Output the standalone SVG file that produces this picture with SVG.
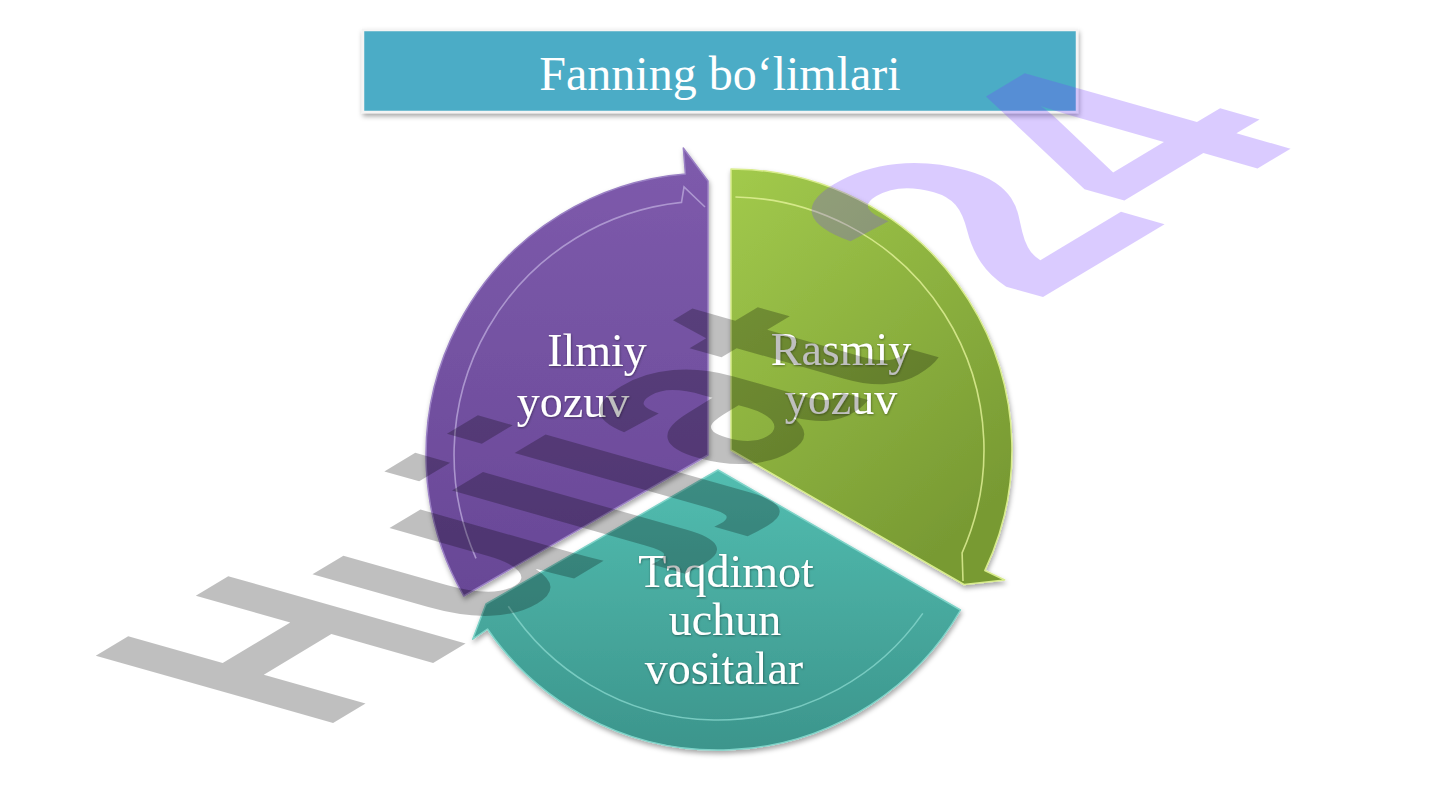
<svg xmlns="http://www.w3.org/2000/svg" width="1440" height="810" viewBox="0 0 1440 810">
<defs>
<linearGradient id="gP" x1="0" y1="0" x2="0" y2="1"><stop offset="0" stop-color="#7E5BAC"/><stop offset="1" stop-color="#684796"/></linearGradient>
<linearGradient id="gG" x1="0" y1="0" x2="0.6" y2="1"><stop offset="0" stop-color="#A2CA4C"/><stop offset="1" stop-color="#789A33"/></linearGradient>
<linearGradient id="gT" x1="0" y1="0" x2="0" y2="1"><stop offset="0" stop-color="#52BDB0"/><stop offset="1" stop-color="#3C958C"/></linearGradient>
<filter id="sh" x="-10%" y="-10%" width="120%" height="130%"><feDropShadow dx="1" dy="3" stdDeviation="2.5" flood-color="#000" flood-opacity="0.35"/></filter>
<filter id="ts" x="-10%" y="-10%" width="120%" height="130%"><feDropShadow dx="0.5" dy="1" stdDeviation="0.8" flood-color="#000" flood-opacity="0.4"/></filter>
</defs>
<style>
.lbl{font-family:"Liberation Serif","Times New Roman",serif;font-size:46px;fill:#fff;text-anchor:middle}
.ttl{font-family:"Liberation Serif","Times New Roman",serif;font-size:48px;fill:#fff;text-anchor:middle}
.seg{stroke-width:1.5;stroke-linejoin:round}
.bev{fill:none;stroke-width:1.6;opacity:0.8}
.wm{font-family:"Liberation Sans",Arial,sans-serif;font-weight:bold;font-size:100px}
</style>
<rect width="1440" height="810" fill="#fff"/>
<g id="title">
<rect x="363" y="30" width="714" height="82" fill="#4BACC6" stroke="#f4f4f4" stroke-width="2.5" filter="url(#sh)"/>
<text class="ttl" x="720" y="90">Fanning bo‘limlari</text>
</g>
<g id="connectors"/>
<g id="node-ilmiy">
<path class="seg" d="M 708 455 L 463.8 596 A 282 282 0 0 1 685.4 173.9 L 683.3 148 L 708 181 Z" fill="url(#gP)" stroke="#9A80C4" filter="url(#sh)"/>
<path class="bev" d="M 476 558.3 A 254 254 0 0 1 681.5 202.4 L 684 187 L 705 207" stroke="#B9A6DA"/>
<text class="lbl" x="597" y="366" filter="url(#ts)">Ilmiy</text>
<text class="lbl" x="573" y="417" filter="url(#ts)">yozuv</text>
</g>
<g id="node-rasmiy">
<path class="seg" d="M 731 450 L 731 169 A 281 281 0 0 1 984.8 570.5 L 1004.7 580 L 964 584.5 Z" fill="url(#gG)" stroke="#D8EC8C" filter="url(#sh)"/>
<path class="bev" d="M 735.4 197 A 253 253 0 0 1 962.1 552.9 L 963 581" stroke="#E4F29A"/>
<text class="lbl" x="841" y="365" filter="url(#ts)">Rasmiy</text>
<text class="lbl" x="841" y="414" filter="url(#ts)">yozuv</text>
</g>
<g id="node-taqdimot">
<path class="seg" d="M 718 470 L 960.5 610 A 280 280 0 0 1 487.5 629 L 472.7 639.2 L 486 604 Z" fill="url(#gT)" stroke="#7ED3C8" filter="url(#sh)"/>
<path class="bev" d="M 922.8 613.4 A 250 250 0 0 1 508.3 606.2" stroke="#86D6CC"/>
<text class="lbl" x="726" y="587" filter="url(#ts)">Taqdimot</text>
<text class="lbl" x="725" y="635" filter="url(#ts)">uchun</text>
<text class="lbl" x="724" y="684" filter="url(#ts)">vositalar</text>
</g>
<g id="watermark">
<text class="wm" transform="matrix(2.254,-1.352,3.45,0.978,318,732)"><tspan fill="#000" fill-opacity="0.25">Hujjat</tspan><tspan dx="40" font-size="112" fill="rgb(120,62,254)" fill-opacity="0.27">24</tspan></text>
</g>
</svg>
